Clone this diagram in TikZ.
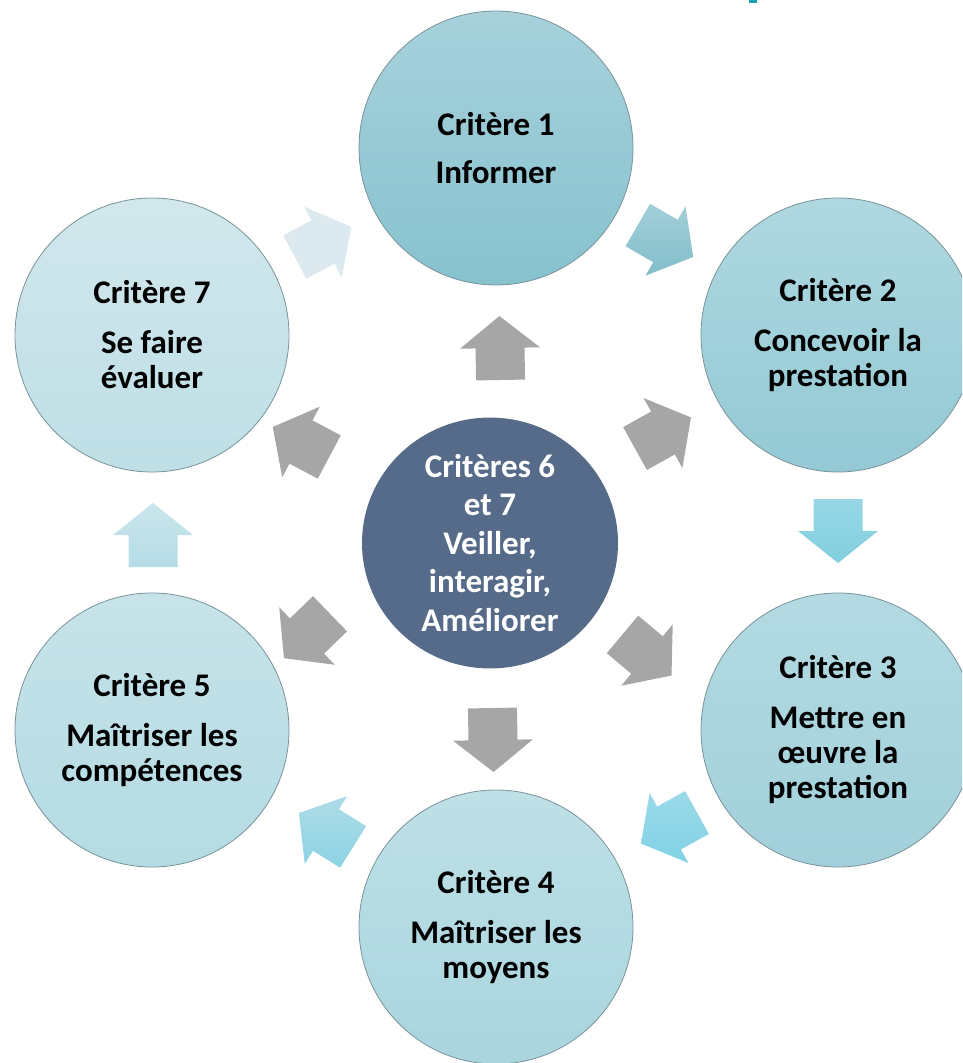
\documentclass[tikz,border=0pt]{standalone}
\usepackage{fontspec}
\setmainfont{Carlito}
\usetikzlibrary{shapes.geometric}
\definecolor{cborder}{HTML}{7A9399}
\definecolor{cA1}{HTML}{A6D1DB}\definecolor{cA2}{HTML}{87C2CF}
\definecolor{cB1}{HTML}{AFD8E0}\definecolor{cB2}{HTML}{93C9D5}
\definecolor{cC1}{HTML}{B3DAE2}\definecolor{cC2}{HTML}{A2D0DA}
\definecolor{cD1}{HTML}{BEE0E6}\definecolor{cD2}{HTML}{A9D5DE}
\definecolor{cE1}{HTML}{C6E3E9}\definecolor{cE2}{HTML}{B4DBE3}
\definecolor{cF1}{HTML}{D1E7EC}\definecolor{cF2}{HTML}{BEDFE6}
\definecolor{slate}{HTML}{566A89}
\definecolor{grayarr}{HTML}{A6A6A6}
\definecolor{a71}{HTML}{DCEAEF}
\definecolor{a12t}{HTML}{A2CFD9}\definecolor{a12b}{HTML}{82BECA}
\definecolor{a23t}{HTML}{97D7E5}\definecolor{a23b}{HTML}{80CFE0}
\definecolor{a34t}{HTML}{9ADAE8}\definecolor{a34b}{HTML}{80D2E6}
\definecolor{a45t}{HTML}{ADDCE7}\definecolor{a45b}{HTML}{8DD3E4}
\definecolor{a57t}{HTML}{CBE6ED}\definecolor{a57b}{HTML}{B4DCE6}
\definecolor{tealmark}{HTML}{1AA3B5}
\begin{document}
\begin{tikzpicture}[x=1pt,y=-1pt,
  crit/.style={circle, minimum size=274pt, inner sep=0pt, draw=cborder, line width=0.8pt,
    font=\bfseries\fontsize{33}{35}\selectfont, align=center, text=black},
  hub/.style={ellipse, minimum width=256pt, minimum height=248pt, inner sep=0pt, fill=slate,
    font=\bfseries\fontsize{33}{38.5}\selectfont, align=center, text=white},
  blockarrow/.pic={\path[pic actions] (-32,-24.5) -- (0,-24.5) -- (0,-40) -- (32,0)
     -- (0,40) -- (0,24.5) -- (-32,24.5) -- cycle;},
  grayblk/.style={fill=grayarr}
]
\useasboundingbox (0,0) rectangle (962,1063);
\clip (0,0) rectangle (962,1063);
\fill[tealmark] (749,0) rectangle (757,3);

\node[crit, top color=cA1, bottom color=cA2] (c1) at (496,148) {Critère 1\\[13pt]Informer};
\node[crit, top color=cB1, bottom color=cB2] (c2) at (838,335) {Critère 2\\[15pt]Concevoir la\\prestation};
\node[crit, top color=cC1, bottom color=cC2] (c3) at (838,730) {Critère 3\\[15pt]Mettre en\\œuvre la\\prestation};
\node[crit, top color=cD1, bottom color=cD2] (c4) at (496,927) {Critère 4\\[15pt]Maîtriser les\\moyens};
\node[crit, top color=cE1, bottom color=cE2] (c5) at (152,730) {Critère 5\\[15pt]Maîtriser les\\compétences};
\node[crit, top color=cF1, bottom color=cF2] (c7) at (152,335) {Critère 7\\[15pt]Se faire\\évaluer};
\node[hub] (hub) at (490,543) {Critères 6\\et 7\\Veiller,\\interagir,\\Améliorer};

% cycle arrows
\pic[rotate=28, fill=a71] (a7to1) at (323,242) {blockarrow};
\pic[rotate=-30, top color=a12t, bottom color=a12b] (a1to2) at (665.5,241) {blockarrow};
\pic[rotate=-90, top color=a23t, bottom color=a23b] (a2to3) at (838,531) {blockarrow};
\pic[rotate=209, top color=a34t, bottom color=a34b] (a3to4) at (669,828) {blockarrow};
\pic[rotate=148, top color=a45t, bottom color=a45b] (a4to5) at (326,830) {blockarrow};
\pic[rotate=90, top color=a57t, bottom color=a57b] (a5to7) at (153,535) {blockarrow};

% hub arrows
\pic[rotate=91, grayblk] (g1) at (500,348) {blockarrow};
\pic[rotate=29, grayblk] (g2) at (663,433) {blockarrow};
\pic[rotate=-40, grayblk] (g3) at (647,655) {blockarrow};
\pic[rotate=-89, grayblk] (g4) at (493,740) {blockarrow};
\pic[rotate=224, grayblk] (g5) at (307,636) {blockarrow};
\pic[rotate=152, grayblk] (g7) at (301,442) {blockarrow};
\end{tikzpicture}
\end{document}
